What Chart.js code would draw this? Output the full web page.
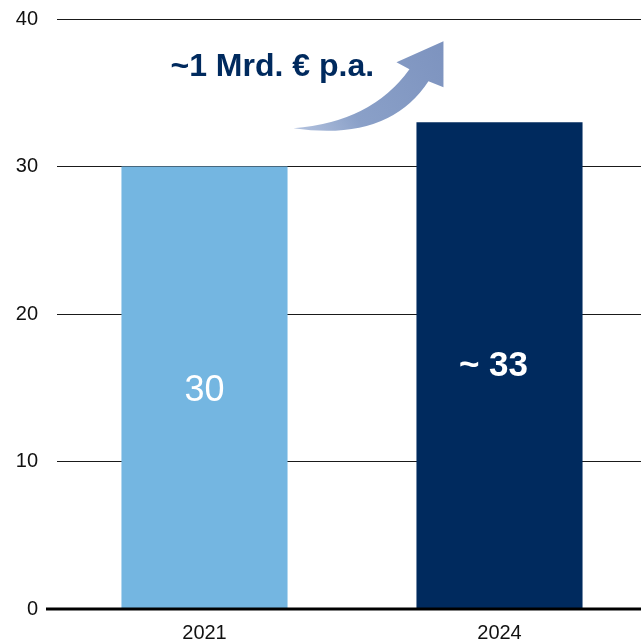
<!DOCTYPE html>
<html>
<head>
<meta charset="utf-8">
<script src="https://cdn.jsdelivr.net/npm/chart.js@4/dist/chart.umd.min.js"></script>
<style>
html,body{margin:0;padding:0;background:#fff;overflow:hidden;}
#wrap{width:641px;height:644px;position:relative;overflow:hidden;}
</style>
</head>
<body>
<div id="wrap"><canvas id="c" width="647" height="644"></canvas></div>
<script>
const categories = ['2021', '2024'];
const values = [30, 33];
const valueLabels = ['30', '~ 33'];
const labelBold = [false, true];
const barColors = ['#74b6e1', '#002a5e'];
const yTicks = [0, 10, 20, 30, 40];
const annotationText = '~1 Mrd. € p.a.';

const FONT = '"Liberation Sans", Arial, sans-serif';
const labelShiftX = [0, -6];
const labelShiftY = [4, 1];

const overlay = {
  id: 'overlay',
  afterDatasetsDraw(chart) {
    const ctx = chart.ctx;
    const ys = chart.scales.y;
    const area = chart.chartArea;
    const y0 = ys.getPixelForValue(0);
    ctx.save();
    ctx.strokeStyle = '#000';
    ctx.lineWidth = 3;
    ctx.beginPath();
    ctx.moveTo(area.left - 11, y0);
    ctx.lineTo(area.right, y0);
    ctx.stroke();
    const meta = chart.getDatasetMeta(0);
    meta.data.forEach((bar, i) => {
      ctx.fillStyle = '#fff';
      ctx.textAlign = 'center';
      ctx.textBaseline = 'middle';
      ctx.font = (labelBold[i] ? 'bold 35px ' : '36px ') + FONT;
      ctx.fillText(valueLabels[i], bar.x + labelShiftX[i], (bar.y + bar.base) / 2 + labelShiftY[i]);
    });
    // arrow annotation anchored to the 2024 bar
    const b = meta.data[1];
    const top = b.y;
    const L = b.x - b.width / 2;
    const P = (dx, dy) => [L + dx, top + dy];
    const tail = P(-123, 6);
    const lowCtrl = P(-28, 20);
    const lowEnd = P(12, -41);
    const headR = P(27, -35);
    const tip = P(27, -81);
    const headL = P(-20, -60);
    const upStart = P(-7, -53);
    const upCtrl = P(-45, 0);
    const grad = ctx.createLinearGradient(tail[0], tail[1], tip[0], tip[1]);
    grad.addColorStop(0, '#b4c3df');
    grad.addColorStop(0.35, '#8aa0c8');
    grad.addColorStop(1, '#7d93bf');
    ctx.fillStyle = grad;
    ctx.beginPath();
    ctx.moveTo(tail[0], tail[1]);
    ctx.quadraticCurveTo(lowCtrl[0], lowCtrl[1], lowEnd[0], lowEnd[1]);
    ctx.lineTo(headR[0], headR[1]);
    ctx.lineTo(tip[0], tip[1]);
    ctx.lineTo(headL[0], headL[1]);
    ctx.lineTo(upStart[0], upStart[1]);
    ctx.quadraticCurveTo(upCtrl[0], upCtrl[1], tail[0], tail[1]);
    ctx.closePath();
    ctx.fill();
    ctx.fillStyle = '#002a5e';
    ctx.font = 'bold 32px ' + FONT;
    ctx.textAlign = 'left';
    ctx.textBaseline = 'middle';
    ctx.fillText(annotationText, L - 246, top - 55);
    ctx.restore();
  }
};

new Chart(document.getElementById('c'), {
  type: 'bar',
  data: {
    labels: categories,
    datasets: [{
      data: values,
      backgroundColor: barColors,
      borderWidth: 0,
      barPercentage: 0.563,
      categoryPercentage: 1
    }]
  },
  options: {
    responsive: false,
    animation: false,
    events: [],
    layout: { padding: { top: 19, right: 0, left: 0, bottom: 0 } },
    plugins: { legend: { display: false }, tooltip: { enabled: false } },
    scales: {
      x: {
        grid: { display: false, drawTicks: false },
        border: { display: false },
        ticks: { color: '#111', font: { family: FONT, size: 20, lineHeight: 1 }, padding: 14 },
        afterFit(s) { s.height = 35; }
      },
      y: {
        min: 0, max: 40,
        afterBuildTicks(s) { s.ticks = yTicks.map(v => ({ value: v })); },
        grid: {
          drawTicks: false,
          color: (c) => c.tick && c.tick.value === 0 ? 'rgba(0,0,0,0)' : '#1a1a1a',
          lineWidth: 1
        },
        border: { display: false },
        ticks: { color: '#111', font: { family: FONT, size: 20 }, padding: 19 },
        afterFit(s) { s.width = 57; s.paddingTop = 0; s.paddingBottom = 0; }
      }
    }
  },
  plugins: [overlay]
});
</script>
</body>
</html>
